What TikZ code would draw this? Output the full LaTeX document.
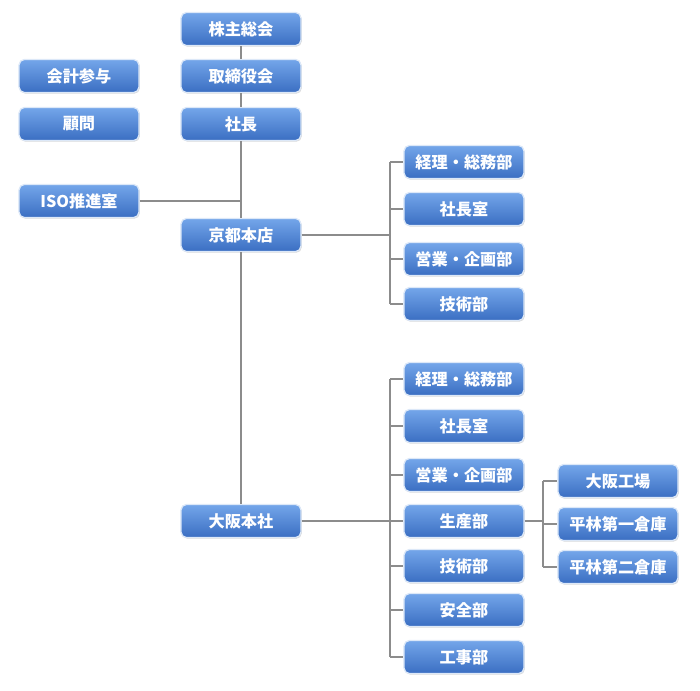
\documentclass[tikz,border=0pt]{standalone}
\usepackage{fontspec}
\newfontfamily\jpfont{Noto Sans CJK JP}
\usetikzlibrary{shadows}

\definecolor{boxtop}{HTML}{74A6EA}
\definecolor{boxbot}{HTML}{3A6EC2}
\definecolor{boxrim}{HTML}{DCE8F8}
\definecolor{linegray}{HTML}{8C8C8C}

\tikzset{
  unit/.style={rectangle, rounded corners=4pt, draw=boxrim, line width=0.9pt,
    top color=boxtop, bottom color=boxbot, text=white,
    minimum width=3cm, minimum height=0.83cm, inner sep=0pt,
    font=\jpfont\bfseries\fontsize{11.5}{13}\selectfont,
    drop shadow={shadow xshift=0.6pt, shadow yshift=-0.8pt, opacity=0.3}},
  link/.style={draw=linegray, line width=1.1pt}
}

\begin{document}
\begin{tikzpicture}[x=0.025cm, y=-0.025cm]
  % page frame
  \useasboundingbox (0,0) rectangle (700,691);

  % bracket columns
  \coordinate (kx) at (390,0);
  \coordinate (ox) at (390,0);
  \coordinate (px) at (543,0);

  % top of the tree
  \node[unit] (meeting) at (241,29) {株主総会};
  \node[unit] (board) at (241,76) {取締役会};
  \node[unit] (president) at (241,124) {社長};
  \node[unit] (accounting) at (79,76) {会計参与};
  \node[unit] (advisor) at (79,124) {顧問};
  \node[unit] (iso) at (79,201) {ISO推進室};
  \node[unit] (kyoto) at (241,235) {京都本店};
  \node[unit] (osaka) at (241,521) {大阪本社};

  % kyoto departments
  \node[unit] (kacct) at (464,162) {経理・総務部};
  \node[unit] (koffice) at (464,209) {社長室};
  \node[unit] (ksales) at (464,259) {営業・企画部};
  \node[unit] (ktech) at (464,304) {技術部};

  % osaka departments
  \node[unit] (oacct) at (464,379) {経理・総務部};
  \node[unit] (ooffice) at (464,426) {社長室};
  \node[unit] (osales) at (464,475) {営業・企画部};
  \node[unit] (oprod) at (464,521) {生産部};
  \node[unit] (otech) at (464,566) {技術部};
  \node[unit] (osafety) at (464,610) {安全部};
  \node[unit] (owork) at (464,657) {工事部};

  % production sites
  \node[unit] (factory) at (618,481) {大阪工場};
  \node[unit] (store1) at (618,524) {平林第一倉庫};
  \node[unit] (store2) at (618,567) {平林第二倉庫};

  % main trunk
  \draw[link] (meeting) -- (board);
  \draw[link] (board) -- (president);
  \draw[link] (president) -- (kyoto);
  \draw[link] (kyoto) -- (osaka);
  \draw[link] (iso.east) -- (iso.east -| kyoto);

  % kyoto bracket
  \draw[link] (kyoto.east) -- (kyoto.east -| kx);
  \draw[link] (kacct.west -| kx) -- (ktech.west -| kx);
  \foreach \d in {kacct,koffice,ksales,ktech}
    \draw[link] (\d.west -| kx) -- (\d.west);

  % osaka bracket
  \draw[link] (osaka.east) -- (osaka.east -| ox);
  \draw[link] (oacct.west -| ox) -- (owork.west -| ox);
  \foreach \d in {oacct,ooffice,osales,oprod,otech,osafety,owork}
    \draw[link] (\d.west -| ox) -- (\d.west);

  % production bracket
  \draw[link] (oprod.east) -- (oprod.east -| px);
  \draw[link] (factory.west -| px) -- (store2.west -| px);
  \foreach \d in {factory,store1,store2}
    \draw[link] (\d.west -| px) -- (\d.west);
\end{tikzpicture}
\end{document}
